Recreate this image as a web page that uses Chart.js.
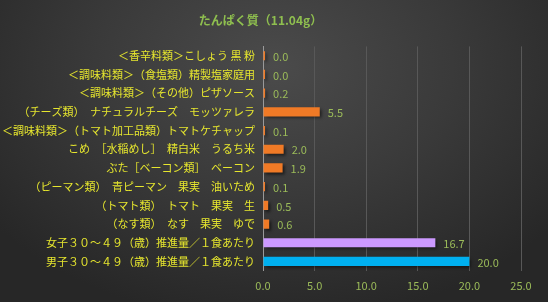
<!DOCTYPE html>
<html>
<head>
<meta charset="utf-8">
<script src="https://cdn.jsdelivr.net/npm/chart.js@4"></script>
<style>
    html, body { margin: 0; padding: 0; }
    body {
        width: 548px; height: 302px; overflow: hidden;
        background: radial-gradient(ellipse 65% 85% at 50% 22%, #4b4b4b 0%, #3a3a3a 50%, #272727 100%);
    }
    canvas { display: block; }
</style>
</head>
<body>
<canvas id="chart" width="548" height="302"></canvas>
<script>
// Chart data
const categories = [
    '＜香辛料類＞こしょう 黒 粉',
    '＜調味料類＞（食塩類）精製塩家庭用',
    '＜調味料類＞（その他）ピザソース',
    '（チーズ類）　ナチュラルチーズ　モッツァレラ',
    '＜調味料類＞（トマト加工品類）トマトケチャップ',
    'こめ　［水稲めし］　精白米　うるち米',
    'ぶた［ベーコン類］　ベーコン',
    '（ピーマン類）　青ピーマン　果実　油いため',
    '（トマト類）　トマト　果実　生',
    '（なす類）　なす　果実　ゆで',
    '女子３０～４９（歳）推進量／１食あたり',
    '男子３０～４９（歳）推進量／１食あたり'
];
const values = [0.0, 0.0, 0.2, 5.5, 0.1, 2.0, 1.9, 0.1, 0.5, 0.6, 16.7, 20.0];
const barColors = [
    '#f07a26', '#f07a26', '#f07a26', '#f07a26', '#f07a26', '#f07a26',
    '#f07a26', '#f07a26', '#f07a26', '#f07a26', '#cc99ff', '#00b0f0'
];
const xTicks = [0, 5, 10, 15, 20, 25];

const fontFamily = '"Noto Sans CJK JP", "Noto Sans", sans-serif';

// Bar shadow
const shadowPlugin = {
    id: 'barShadow',
    beforeDatasetsDraw(chart) {
        const ctx = chart.ctx;
        ctx.save();
        ctx.shadowColor = 'rgba(0, 0, 0, 0.55)';
        ctx.shadowBlur = 3;
        ctx.shadowOffsetX = 2;
        ctx.shadowOffsetY = 2;
    },
    afterDatasetsDraw(chart) {
        chart.ctx.restore();
    }
};

// Value labels at bar ends
const valueLabels = {
    id: 'valueLabels',
    afterDatasetsDraw(chart) {
        const ctx = chart.ctx;
        const meta = chart.getDatasetMeta(0);
        ctx.save();
        ctx.font = '11px ' + fontFamily;
        ctx.fillStyle = '#9bbb59';
        ctx.textBaseline = 'middle';
        ctx.textAlign = 'left';
        meta.data.forEach((bar, i) => {
            ctx.fillText(values[i].toFixed(1), bar.x + 8, bar.y + 1);
        });
        ctx.restore();
    }
};

new Chart(document.getElementById('chart'), {
    type: 'bar',
    data: {
        labels: categories,
        datasets: [{
            data: values,
            backgroundColor: barColors,
            borderWidth: 0,
            barPercentage: 0.52,
            categoryPercentage: 0.95,
            minBarLength: 2
        }]
    },
    options: {
        indexAxis: 'y',
        responsive: false,
        animation: false,
        layout: { padding: { left: 0, right: 27, top: 0, bottom: 2 } },
        plugins: {
            legend: { display: false },
            tooltip: { enabled: false },
            title: {
                display: true,
                text: 'たんぱく質（11.04g）',
                color: '#8fbf4f',
                font: { family: fontFamily, size: 12 },
                padding: { top: 13, bottom: 19 }
            }
        },
        scales: {
            x: {
                min: 0,
                max: 25,
                afterBuildTicks: (scale) => {
                    scale.ticks = xTicks.map(v => ({ value: v }));
                },
                grid: {
                    color: (c) => c.tick && c.tick.value === 0 ? 'rgba(0,0,0,0)' : '#585858',
                    drawTicks: false
                },
                border: { display: false },
                ticks: {
                    color: '#9bbb59',
                    padding: 8,
                    maxRotation: 0,
                    font: { family: fontFamily, size: 11 },
                    callback: (v) => Number(v).toFixed(1)
                }
            },
            y: {
                afterFit: (scale) => { scale.width = 263; },
                grid: { display: false, drawTicks: false },
                border: { display: true, color: '#9a9a9a', width: 1 },
                ticks: {
                    color: '#e6e62e',
                    padding: 8,
                    autoSkip: false,
                    font: { family: fontFamily, size: 11 }
                }
            }
        }
    },
    plugins: [shadowPlugin, valueLabels]
});
</script>
</body>
</html>
